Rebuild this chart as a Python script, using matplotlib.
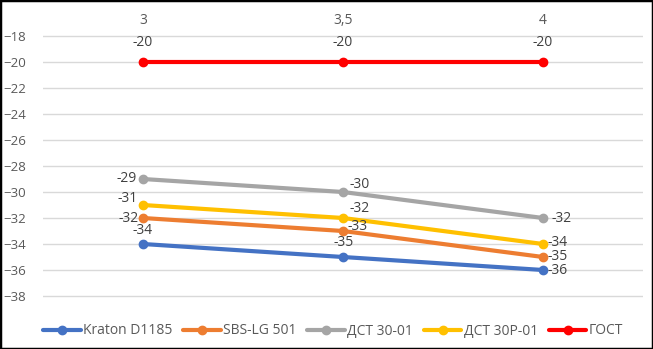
import matplotlib.pyplot as plt
from matplotlib.patches import Rectangle

plt.rcParams['font.family'] = ['Open Sans', 'DejaVu Sans']
plt.rcParams['font.size'] = 10

categories = ['3', '3,5', '4']
x = [3, 3.5, 4]
kraton = [-34, -35, -36]
sbs = [-32, -33, -35]
dst30 = [-29, -30, -32]
dst30r = [-31, -32, -34]
gost = [-20, -20, -20]

series = [
    ('Kraton D1185', kraton, '#4472C4'),
    ('SBS-LG 501', sbs, '#ED7D31'),
    ('ДСТ 30-01', dst30, '#A5A5A5'),
    ('ДСТ 30Р-01', dst30r, '#FFC000'),
    ('ГОСТ', gost, '#FF0000'),
]

# label offsets in pixels (dx, dy up, ha) for each point
offsets = {
    'Kraton D1185': [(0, 13, 'center'), (1, 14, 'center'), (5, -1, 'left')],
    'SBS-LG 501': [(-4, -1, 'right'), (5, 4, 'left'), (5, 1, 'left')],
    'ДСТ 30-01': [(-6, 0, 'right'), (7, 7, 'left'), (9, -1, 'left')],
    'ДСТ 30Р-01': [(-5, 7, 'right'), (7, 9, 'left'), (5, 2, 'left')],
    'ГОСТ': [(0, 20, 'center'), (0, 20, 'center'), (0, 20, 'center')],
}

fig = plt.figure(figsize=(6.53, 3.49), dpi=100)
ax = fig.add_axes([43 / 653, 1 - 322 / 349, 600 / 653, 312 / 349])

for name, vals, col in series:
    ax.plot(x, vals, color=col, lw=3, marker='o', ms=6, label=name,
            solid_capstyle='round')
    for xi, v, (dx, dy, ha) in zip(x, vals, offsets[name]):
        ax.annotate(str(v), (xi, v), xytext=(dx, dy), textcoords='offset pixels',
                    ha=ha, va='center', color='#404040')

ax.set_xlim(2.75, 4.25)
ax.set_ylim(-40, -16)
ax.set_yticks(range(-38, -17, 2))
ax.yaxis.grid(True, color='#D9D9D9', lw=1)
ax.set_axisbelow(True)
ax.tick_params(axis='y', length=0, labelcolor='#595959', pad=12, labelsize=9.5)
ax.set_xticks([])
for xi, c in zip(x, categories):
    ax.annotate(c, (xi, -16), xytext=(0, -10), textcoords='offset pixels',
                ha='center', va='center', color='#595959')
for s in ax.spines.values():
    s.set_visible(False)

ax.legend(loc='center', bbox_to_anchor=(0.51, 1 - 331 / 349), bbox_transform=fig.transFigure,
          ncol=5, frameon=False, handlelength=2.7, columnspacing=0.8, handletextpad=0.15,
          labelcolor='#595959', fontsize=10)

fig.patches.append(Rectangle((0, 0), 1, 1, transform=fig.transFigure, fill=False,
                             edgecolor='black', lw=2.5))
fig.savefig('out.png', dpi=100)
